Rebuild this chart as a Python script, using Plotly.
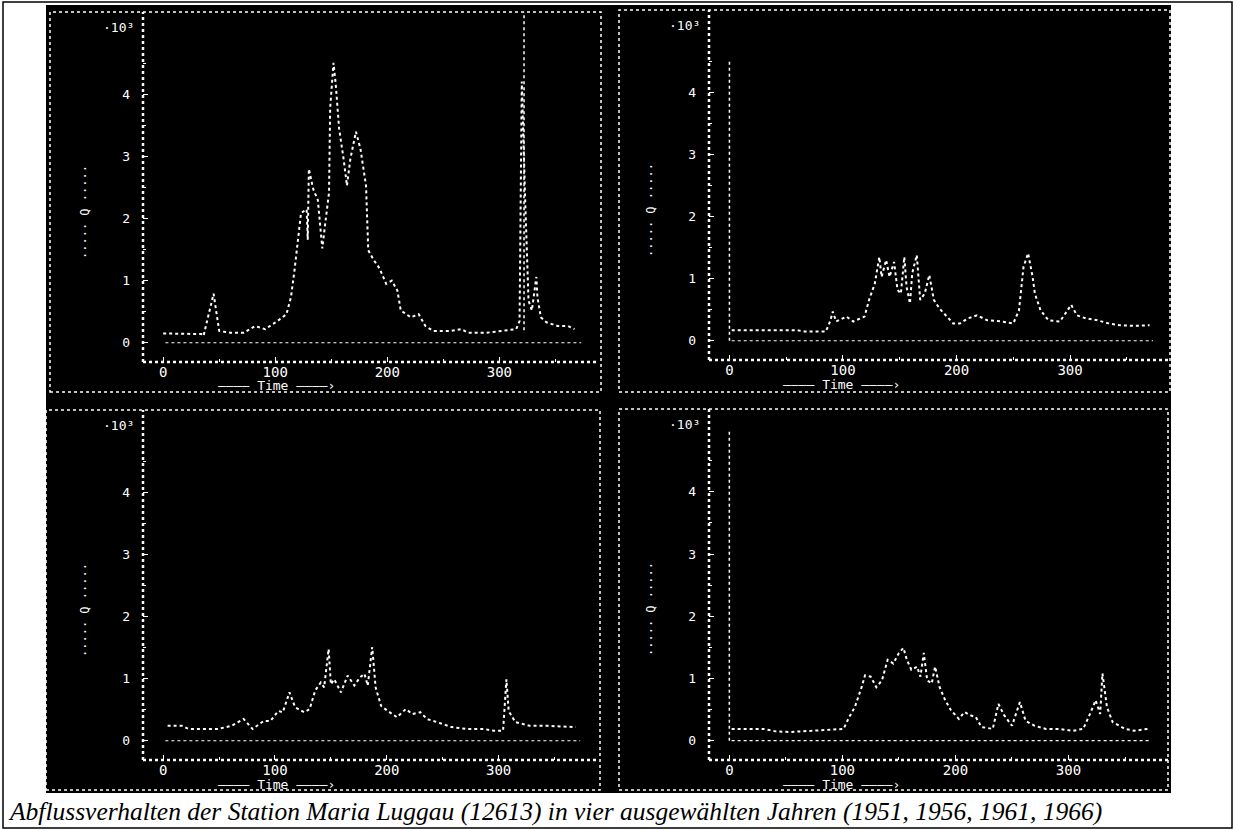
import plotly.graph_objects as go

# ---------------- data (day of year, discharge in 10^3) ----------------
days_1951 = [0, 20, 34, 36, 45, 50, 60, 72, 82, 91, 102, 110, 114, 117, 121, 123, 128, 129, 130, 134, 138, 142,
             145, 148, 149, 152, 154, 157, 161, 164, 167, 172, 176, 179, 181, 183, 188, 193, 199, 204, 209, 212,
             221, 228, 234, 241, 256, 266, 272, 288, 304, 315, 318, 320, 323, 326, 329, 333, 334, 337, 342, 352,
             361, 367]
q_1951 = [0.15, 0.14, 0.14, 0.11, 0.79, 0.19, 0.16, 0.16, 0.27, 0.22, 0.35, 0.46, 0.73, 1.14, 1.77, 2.09, 2.15, 1.66,
          2.8, 2.47, 2.3, 1.52, 1.98, 2.42, 3.78, 4.51, 4.16, 3.45, 2.96, 2.53, 2.96, 3.4, 3.13, 2.74, 2.53, 1.49,
          1.33, 1.2, 0.95, 1.0, 0.84, 0.52, 0.41, 0.46, 0.27, 0.19, 0.19, 0.22, 0.16, 0.16, 0.19, 0.22, 0.35, 4.21,
          2.3, 0.68, 0.52, 1.06, 0.73, 0.41, 0.33, 0.27, 0.27, 0.22]

days_1956 = [2, 30, 60, 65, 85, 89, 91, 94, 103, 109, 119, 123, 128, 132, 134, 138, 141, 145, 148, 151, 154, 156,
             159, 161, 165, 168, 172, 176, 180, 185, 192, 197, 203, 210, 218, 227, 240, 250, 255, 259, 263, 267,
             269, 274, 281, 291, 297, 301, 306, 314, 324, 334, 344, 358, 370]
q_1956 = [0.17, 0.17, 0.17, 0.15, 0.15, 0.33, 0.47, 0.31, 0.39, 0.31, 0.39, 0.66, 0.92, 1.35, 1.03, 1.3, 1.03, 1.27,
          0.82, 0.76, 1.35, 0.87, 0.6, 1.09, 1.38, 0.66, 0.76, 1.06, 0.66, 0.52, 0.39, 0.28, 0.28, 0.36, 0.41, 0.33,
          0.31, 0.28, 0.49, 1.19, 1.41, 1.03, 0.76, 0.49, 0.33, 0.31, 0.47, 0.58, 0.41, 0.36, 0.33, 0.28, 0.25,
          0.24, 0.25]

days_1961 = [4, 17, 23, 49, 61, 72, 80, 90, 96, 103, 107, 113, 118, 126, 131, 136, 141, 144, 148, 150, 153, 159,
             165, 171, 176, 180, 183, 187, 190, 195, 201, 209, 217, 223, 230, 236, 245, 258, 271, 287, 296, 304,
             307, 309, 315, 328, 344, 369]
q_1961 = [0.24, 0.24, 0.19, 0.19, 0.24, 0.35, 0.19, 0.32, 0.32, 0.48, 0.46, 0.78, 0.54, 0.46, 0.51, 0.81, 0.94,
          0.86, 1.48, 0.91, 0.99, 0.78, 1.05, 0.89, 1.02, 1.08, 0.89, 1.51, 0.86, 0.56, 0.48, 0.38, 0.51, 0.43,
          0.46, 0.35, 0.3, 0.22, 0.19, 0.19, 0.16, 0.16, 0.99, 0.48, 0.3, 0.24, 0.24, 0.22]

days_1966 = [2, 30, 41, 54, 74, 101, 106, 111, 117, 120, 125, 130, 135, 140, 145, 150, 154, 157, 161, 166, 169,
             172, 175, 179, 182, 186, 191, 196, 203, 208, 213, 218, 223, 233, 238, 243, 250, 257, 262, 270, 280,
             291, 304, 313, 319, 324, 328, 330, 334, 339, 350, 358, 370]
q_1966 = [0.19, 0.19, 0.15, 0.14, 0.16, 0.19, 0.38, 0.54, 0.86, 1.05, 1.03, 0.86, 0.97, 1.3, 1.24, 1.41, 1.49, 1.3,
          1.14, 1.19, 1.03, 1.41, 0.97, 0.92, 1.19, 0.86, 0.65, 0.49, 0.35, 0.46, 0.41, 0.38, 0.22, 0.19, 0.59,
          0.41, 0.24, 0.62, 0.32, 0.24, 0.19, 0.19, 0.16, 0.19, 0.43, 0.65, 0.43, 1.08, 0.54, 0.3, 0.19, 0.16, 0.19]

years = [1951, 1956, 1961, 1966]
x_ticks = [0, 100, 200, 300]
x_tick_text = ["0", "100", "200", "300"]
y_ticks = [0, 1, 2, 3, 4]
y_tick_text = ["0", "1", "2", "3", "4"]
baseline_days = [2, 373]
# vertical dotted artefact lines drawn by the plotter: day and q-span per panel
ref_line_day = [322, 0, None, 0]
ref_line_q = [[0.2, 5.33], [0.0, 4.5], None, [0.0, 5.0]]
caption = "Abflussverhalten der Station Maria Luggau (12613) in vier ausgewählten Jahren (1951, 1956, 1961, 1966)"

series = [(days_1951, q_1951), (days_1956, q_1956), (days_1961, q_1961), (days_1966, q_1966)]

# ---------------- layout geometry (pixels) ----------------
W, H = 1237, 830
def px(x):
    return x / W
def py(y):
    return 1 - y / H

# plot frames: (left, right, top, bottom) px
frames = [(143, 598, 12, 362), (709, 1170, 10, 360), (143, 597, 410, 760), (709, 1168, 409, 760)]
# outer panel boxes
boxes = [(50, 601, 12, 392), (619, 1170, 10, 392), (46, 600, 410, 790), (619, 1168, 409, 790)]
XR = [-18, 388]
YR = [-0.31, 5.33]

fig = go.Figure()
layout = dict(
    width=W, height=H, margin=dict(l=0, r=0, t=0, b=0),
    paper_bgcolor="white", plot_bgcolor="black", showlegend=False,
    shapes=[], annotations=[],
)

mono = "DejaVu Sans Mono"
shapes = layout["shapes"]
annotations = layout["annotations"]

# black scanned background
shapes.append(dict(type="rect", xref="paper", yref="paper", x0=px(46), x1=px(1171), y0=py(793), y1=py(5),
                   fillcolor="black", line=dict(width=0), layer="below"))
# page border
shapes.append(dict(type="rect", xref="paper", yref="paper", x0=px(3), x1=px(1232), y0=py(828), y1=py(2),
                   fillcolor="rgba(0,0,0,0)", line=dict(color="black", width=1.5), layer="above"))

for i, ((d, q), (l, r, t, b), (bl, br, bt, bb)) in enumerate(zip(series, frames, boxes)):
    n = "" if i == 0 else str(i + 1)
    xa, ya = "x" + n, "y" + n
    layout["xaxis" + n] = dict(domain=[px(l), px(r)], anchor=ya, range=XR, showgrid=False, zeroline=False,
                               showline=False, tickmode="array", tickvals=x_ticks, ticktext=x_tick_text,
                               ticks="inside", ticklen=5, tickcolor="white", tickwidth=1,
                               ticklabelstandoff=0,
                               minor=dict(tickvals=[50, 150, 250, 350], ticks="inside", ticklen=3,
                                          tickcolor="white", tickwidth=1),
                               tickfont=dict(family=mono, size=14, color="white"), fixedrange=True)
    layout["yaxis" + n] = dict(domain=[py(b), py(t)], anchor=xa, range=YR, showgrid=False, zeroline=False,
                               showline=False, tickmode="array", tickvals=y_ticks, ticktext=y_tick_text,
                               ticks="inside", ticklen=5, tickcolor="white", tickwidth=1,
                               ticklabelstandoff=12,
                               minor=dict(tickvals=[0.5, 1.5, 2.5, 3.5, 4.5], ticks="inside", ticklen=3,
                                          tickcolor="white", tickwidth=1),
                               tickfont=dict(family=mono, size=13, color="white"), fixedrange=True)
    # data
    fig.add_trace(go.Scatter(x=d, y=q, mode="lines", xaxis=xa, yaxis=ya,
                             line=dict(color="white", width=2, dash="dot")))
    # zero baseline
    fig.add_trace(go.Scatter(x=baseline_days, y=[0, 0], mode="lines", xaxis=xa, yaxis=ya,
                             line=dict(color="white", width=1.2, dash="dot")))
    # vertical artefact line
    if ref_line_day[i] is not None:
        fig.add_trace(go.Scatter(x=[ref_line_day[i], ref_line_day[i]], y=ref_line_q[i], mode="lines",
                                 xaxis=xa, yaxis=ya, line=dict(color="white", width=1.5, dash="dot")))
    # plot frame (dotted)
    fl = dict(color="white", width=2.5, dash="dot")
    shapes.append(dict(type="line", xref="paper", yref="paper", x0=px(l), x1=px(l), y0=py(b), y1=py(t), line=fl))
    shapes.append(dict(type="line", xref="paper", yref="paper", x0=px(l), x1=px(r), y0=py(b), y1=py(b), line=fl))
    # outer box (dotted)
    ol = dict(color="white", width=1.5, dash="dot")
    shapes.append(dict(type="rect", xref="paper", yref="paper", x0=px(bl), x1=px(br), y0=py(bb), y1=py(bt),
                       fillcolor="rgba(0,0,0,0)", line=ol))
    # x10^3 marker
    annotations.append(dict(xref="paper", yref="paper", x=px(l - 25), y=py(t + 15), text="·10³", showarrow=False,
                            font=dict(family=mono, size=13, color="white"), xanchor="center", yanchor="middle"))
    # y title
    annotations.append(dict(xref="paper", yref="paper", x=px(l - 58), y=py(t + 200), text="····· Q ·····",
                            textangle=-90, showarrow=False, font=dict(family=mono, size=12, color="white"),
                            xanchor="center", yanchor="middle"))
    # x title
    annotations.append(dict(xref="paper", yref="paper", x=px(l + 133), y=py(b + 24), text="———— Time ————›",
                            showarrow=False, font=dict(family=mono, size=13, color="white"),
                            xanchor="center", yanchor="middle"))

# caption
annotations.append(dict(xref="paper", yref="paper", x=px(6), y=py(811), text="<i>" + caption + "</i>",
                        showarrow=False, xanchor="left", yanchor="middle",
                        font=dict(family="Liberation Serif", size=25.5, color="black")))

fig.update_layout(**layout)
fig.write_html("out.html")
